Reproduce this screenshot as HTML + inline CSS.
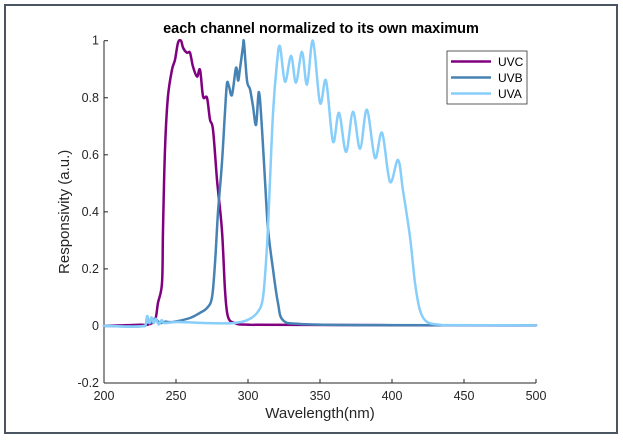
<!DOCTYPE html>
<html><head><meta charset="utf-8"><style>
html,body{margin:0;padding:0;background:#fff}
svg{display:block;font-family:"Liberation Sans",Arial,sans-serif}
</style></head><body>
<svg width="623" height="440" viewBox="0 0 623 440">
<rect x="5" y="5" width="612" height="428" fill="#fff" stroke="#4a5561" stroke-width="2"/>
<text x="321" y="33" text-anchor="middle" font-size="14.5" font-weight="bold" fill="#000">each channel normalized to its own maximum</text>
<g id="axes"></g>
<g id="series"></g>
<g>
<rect x="447" y="51" width="80" height="53" fill="#fff" stroke="#333" stroke-width="0.8"/>
<line x1="451" y1="61.5" x2="491" y2="61.5" stroke="#800080" stroke-width="2.5"/>
<text x="498" y="66" font-size="12" fill="#000">UVC</text>
<line x1="451" y1="77.5" x2="491" y2="77.5" stroke="#4682b4" stroke-width="2.5"/>
<text x="498" y="82" font-size="12" fill="#000">UVB</text>
<line x1="451" y1="93.5" x2="491" y2="93.5" stroke="#87cefa" stroke-width="2.5"/>
<text x="498" y="98" font-size="12" fill="#000">UVA</text>
</g>
</svg>
<script>
const xTicks=[200,250,300,350,400,450,500];
const yTicks=[-0.2,0,0.2,0.4,0.6,0.8,1];
const yTickLabels=["-0.2","0","0.2","0.4","0.6","0.8","1"];
const uvcW=[200,225,229.9,235.4,237.5,240.3,241,242.4,244.4,247.2,249.3,251.4,253.5,254.9,257.6,259.7,261.8,264.6,266.7,268.8,271.5,273.6,275.7,278.5,281.9,284,286.1,291,301.4,500];
const uvcV=[0,0.004,0.004,0.021,0.081,0.151,0.337,0.628,0.803,0.898,0.933,0.993,1.0,0.975,0.958,0.958,0.909,0.874,0.898,0.804,0.8,0.723,0.688,0.512,0.337,0.126,0.032,0.01,0.004,0.002];
const uvbW=[200,228.5,229.9,231.9,235.4,238.9,242.4,247.9,259.7,266.7,271.5,275,277.1,279.2,281.9,284,285.4,286.8,288.9,291.7,293.1,294.4,296.5,297.2,299.3,301.4,303.5,305.6,307.6,309.7,311.8,313.9,317.4,320.8,324.3,336.1,380,500];
const uvbV=[0,0,0.03,0.01,0.025,0.01,0.015,0.014,0.028,0.046,0.063,0.1,0.22,0.4,0.57,0.75,0.85,0.84,0.81,0.905,0.86,0.9,0.98,0.993,0.86,0.83,0.77,0.705,0.82,0.69,0.51,0.34,0.196,0.08,0.02,0.007,0.003,0.002];
const uvaW=[200,228.5,229.9,231.5,233,234.5,236,238,240,242,250.7,271.5,289.6,299.3,306.3,310.4,313.2,315.3,317.4,320.1,322.2,325.7,329.9,333.3,337.5,341,345.1,350,354.2,359,363.2,368.1,372.9,377.8,382.6,388.2,393.1,398.6,404.2,407.6,412.5,416,419.4,424.3,433.3,440.3,500];
const uvaV=[0,0,0.035,0.01,0.03,0.01,0.025,0.005,0.02,0.01,0.014,0.01,0.01,0.02,0.046,0.1,0.28,0.51,0.75,0.92,0.98,0.856,0.947,0.853,0.961,0.846,1.0,0.782,0.86,0.646,0.747,0.61,0.751,0.621,0.758,0.589,0.677,0.505,0.582,0.477,0.312,0.151,0.056,0.014,0.004,0.003,0.002];
const NS="http://www.w3.org/2000/svg";
const X0=104,X1=536,YT=40.7,YB=383;
const xS=w=>X0+(w-200)/300*(X1-X0);
const yS=v=>YB-(v+0.2)/1.2*(YB-YT);
function mk(tag,attrs,parent){const e=document.createElementNS(NS,tag);for(const k in attrs)e.setAttribute(k,attrs[k]);parent.appendChild(e);return e;}
const ax=document.getElementById('axes');
let l=mk('line',{x1:X0,y1:YB,x2:X1,y2:YB,stroke:'#262626','stroke-width':1},ax);


l=mk('line',{x1:X0,y1:YB,x2:X0,y2:YT,stroke:'#262626','stroke-width':1},ax);


xTicks.forEach(t=>{const x=xS(t);
 const tk=mk('line',{x1:x,y1:YB,x2:x,y2:YB-4,stroke:'#262626'},ax);
 
 
 const tx=mk('text',{x:x,y:YB+17,'text-anchor':'middle','font-size':12.5,fill:'#262626'},ax);tx.textContent=t;
 
 
});
yTicks.forEach((t,i)=>{const y=yS(t);
 const tk=mk('line',{x1:X0,y1:y,x2:X0+4,y2:y,stroke:'#262626'},ax);
 
 
 const tx=mk('text',{x:X0-5,y:y+4,'text-anchor':'end','font-size':12.5,fill:'#262626'},ax);tx.textContent=yTickLabels[i];
 
 
});
let t=mk('text',{x:(X0+X1)/2,y:418,'text-anchor':'middle','font-size':15,fill:'#262626'},ax);t.textContent='Wavelength(nm)';


t=mk('text',{x:0,y:0,'text-anchor':'middle','font-size':15,fill:'#262626',transform:'translate(69,'+((YT+YB)/2)+') rotate(-90)'},ax);t.textContent='Responsivity (a.u.)';


const sg=document.getElementById('series');
function draw(W,V,color,name){
 const P=W.map((w,i)=>[xS(w),yS(V[i])]);
 let d='M'+P[0][0].toFixed(1)+','+P[0][1].toFixed(1);
 for(let i=0;i<P.length-1;i++){
  const p0=P[Math.max(0,i-1)],p1=P[i],p2=P[i+1],p3=P[Math.min(P.length-1,i+2)];
  const k=1/6;
  const c1=[p1[0]+(p2[0]-p0[0])*k,p1[1]+(p2[1]-p0[1])*k];
  const c2=[p2[0]-(p3[0]-p1[0])*k,p2[1]-(p3[1]-p1[1])*k];
  c1[0]=Math.min(Math.max(c1[0],p1[0]),p2[0]);c2[0]=Math.min(Math.max(c2[0],p1[0]),p2[0]);
  d+=' C'+c1[0].toFixed(1)+','+c1[1].toFixed(1)+' '+c2[0].toFixed(1)+','+c2[1].toFixed(1)+' '+p2[0].toFixed(1)+','+p2[1].toFixed(1);
 }
 const p=mk('path',{d:d,fill:'none',stroke:color,'stroke-width':2.5,'stroke-linejoin':'round','stroke-linecap':'round'},sg);
 
 
}
draw(uvcW,uvcV,'#800080','uvc-line');
draw(uvbW,uvbV,'#4682b4','uvb-line');
draw(uvaW,uvaV,'#87cefa','uva-line');
</script>
</body></html>
